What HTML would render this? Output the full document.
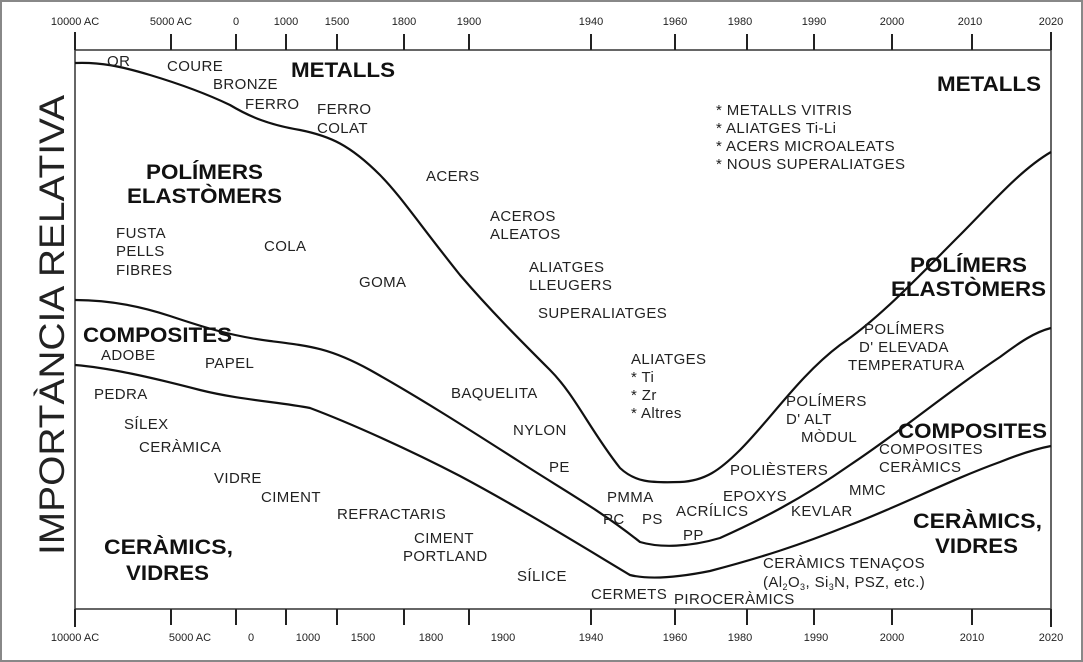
<!DOCTYPE html>
<html><head><meta charset="utf-8"><style>
html,body{margin:0;padding:0;background:#fff}
svg{display:block}
text{font-family:"Liberation Sans",Arial,sans-serif;fill:#222}
.s{font-size:15px;letter-spacing:0.4px}
.b{font-size:21px;font-weight:bold;fill:#111}
.t{font-size:11px}
</style></head><body>
<svg width="1083" height="662" viewBox="0 0 1083 662" xmlns="http://www.w3.org/2000/svg">
<rect x="1" y="1" width="1081" height="660" fill="#fff" stroke="#888" stroke-width="2"/>
<g stroke="#333" stroke-width="1.5" fill="none">
<line x1="75" y1="50" x2="1051" y2="50"/>
<line x1="75" y1="609" x2="1051" y2="609"/>
<line x1="75" y1="50" x2="75" y2="609"/>
<line x1="1051" y1="50" x2="1051" y2="609"/>
</g>
<g stroke="#222" stroke-width="2">
<line x1="75" y1="32" x2="75" y2="50"/><line x1="171" y1="34" x2="171" y2="50"/><line x1="236" y1="34" x2="236" y2="50"/><line x1="286" y1="34" x2="286" y2="50"/><line x1="337" y1="34" x2="337" y2="50"/><line x1="404" y1="34" x2="404" y2="50"/><line x1="469" y1="34" x2="469" y2="50"/><line x1="591" y1="34" x2="591" y2="50"/><line x1="675" y1="34" x2="675" y2="50"/><line x1="747" y1="34" x2="747" y2="50"/><line x1="814" y1="34" x2="814" y2="50"/><line x1="892" y1="34" x2="892" y2="50"/><line x1="972" y1="34" x2="972" y2="50"/><line x1="1051" y1="32" x2="1051" y2="50"/>
<line x1="75" y1="609" x2="75" y2="627"/><line x1="171" y1="609" x2="171" y2="625"/><line x1="236" y1="609" x2="236" y2="625"/><line x1="286" y1="609" x2="286" y2="625"/><line x1="337" y1="609" x2="337" y2="625"/><line x1="404" y1="609" x2="404" y2="625"/><line x1="469" y1="609" x2="469" y2="625"/><line x1="591" y1="609" x2="591" y2="625"/><line x1="675" y1="609" x2="675" y2="625"/><line x1="747" y1="609" x2="747" y2="625"/><line x1="814" y1="609" x2="814" y2="625"/><line x1="892" y1="609" x2="892" y2="625"/><line x1="972" y1="609" x2="972" y2="625"/><line x1="1051" y1="609" x2="1051" y2="627"/>
</g>
<g class="t" text-anchor="middle">
<text class="t" x="75" y="25">10000 AC</text><text class="t" x="171" y="25">5000 AC</text><text class="t" x="236" y="25">0</text><text class="t" x="286" y="25">1000</text><text class="t" x="337" y="25">1500</text><text class="t" x="404" y="25">1800</text><text class="t" x="469" y="25">1900</text><text class="t" x="591" y="25">1940</text><text class="t" x="675" y="25">1960</text><text class="t" x="740" y="25">1980</text><text class="t" x="814" y="25">1990</text><text class="t" x="892" y="25">2000</text><text class="t" x="970" y="25">2010</text><text class="t" x="1051" y="25">2020</text>
<text class="t" x="75" y="641">10000 AC</text><text class="t" x="190" y="641">5000 AC</text><text class="t" x="251" y="641">0</text><text class="t" x="308" y="641">1000</text><text class="t" x="363" y="641">1500</text><text class="t" x="431" y="641">1800</text><text class="t" x="503" y="641">1900</text><text class="t" x="591" y="641">1940</text><text class="t" x="675" y="641">1960</text><text class="t" x="740" y="641">1980</text><text class="t" x="816" y="641">1990</text><text class="t" x="892" y="641">2000</text><text class="t" x="972" y="641">2010</text><text class="t" x="1051" y="641">2020</text>
</g>
<g fill="none" stroke="#111" stroke-width="2.2" stroke-linejoin="round">
<path d="M75,63 C100,62 120,66 150,75 C180,84 205,93 230,105 C250,117 270,125 300,130 C330,136 350,145 380,175 C400,195 420,225 460,275 C490,310 520,340 550,370 C575,395 590,430 620,468 C635,482 650,483 680,482 C705,481 720,470 740,450 C770,420 800,375 840,345 C880,318 920,275 960,235 C990,205 1020,170 1051,152"/>
<path d="M75,300 C110,300 140,306 170,316 C200,326 230,336 270,341 C310,346 330,348 370,370 C420,398 470,430 520,462 C560,488 600,510 640,542 C660,548 690,547 720,538 C760,520 800,500 850,465 C900,432 950,390 1000,357 C1020,342 1035,332 1051,328"/>
<path d="M75,365 C110,368 150,377 200,390 C240,400 280,402 310,408 C350,423 410,450 460,476 C520,508 580,545 630,575 C650,580 680,577 710,571 C760,558 800,545 850,525 C900,506 950,480 1000,462 C1020,454 1035,449 1051,446"/>
</g>
<text x="52" y="325" font-size="35" fill="#111" text-anchor="middle" transform="rotate(-90 52 325)" textLength="460" lengthAdjust="spacingAndGlyphs" dy="12">IMPORTÀNCIA RELATIVA</text>
<g>
<text class="b" x="291" y="77" textLength="104" lengthAdjust="spacingAndGlyphs">METALLS</text>
<text class="b" x="937" y="91" textLength="104" lengthAdjust="spacingAndGlyphs">METALLS</text>
<text class="b" x="146" y="179" textLength="117" lengthAdjust="spacingAndGlyphs">POLÍMERS</text>
<text class="b" x="127" y="203" textLength="155" lengthAdjust="spacingAndGlyphs">ELASTÒMERS</text>
<text class="b" x="910" y="272" textLength="117" lengthAdjust="spacingAndGlyphs">POLÍMERS</text>
<text class="b" x="891" y="296" textLength="155" lengthAdjust="spacingAndGlyphs">ELASTÒMERS</text>
<text class="b" x="83" y="342" textLength="149" lengthAdjust="spacingAndGlyphs">COMPOSITES</text>
<text class="b" x="898" y="438" textLength="149" lengthAdjust="spacingAndGlyphs">COMPOSITES</text>
<text class="b" x="104" y="554" textLength="129" lengthAdjust="spacingAndGlyphs">CERÀMICS,</text>
<text class="b" x="126" y="580" textLength="83" lengthAdjust="spacingAndGlyphs">VIDRES</text>
<text class="b" x="913" y="528" textLength="129" lengthAdjust="spacingAndGlyphs">CERÀMICS,</text>
<text class="b" x="935" y="553" textLength="83" lengthAdjust="spacingAndGlyphs">VIDRES</text>
</g>
<g>
<text class="s" x="107" y="66">OR</text>
<text class="s" x="167" y="71">COURE</text>
<text class="s" x="213" y="89">BRONZE</text>
<text class="s" x="245" y="109">FERRO</text>
<text class="s" x="317" y="114">FERRO</text>
<text class="s" x="317" y="133">COLAT</text>
<text class="s" x="426" y="181">ACERS</text>
<text class="s" x="490" y="221">ACEROS</text>
<text class="s" x="490" y="239">ALEATOS</text>
<text class="s" x="529" y="272">ALIATGES</text>
<text class="s" x="529" y="290">LLEUGERS</text>
<text class="s" x="538" y="318">SUPERALIATGES</text>
<text class="s" x="116" y="238">FUSTA</text>
<text class="s" x="116" y="256">PELLS</text>
<text class="s" x="116" y="275">FIBRES</text>
<text class="s" x="264" y="251">COLA</text>
<text class="s" x="359" y="287">GOMA</text>
<text class="s" x="716" y="115">* METALLS VITRIS</text>
<text class="s" x="716" y="133">* ALIATGES Ti-Li</text>
<text class="s" x="716" y="151">* ACERS MICROALEATS</text>
<text class="s" x="716" y="169">* NOUS SUPERALIATGES</text>
<text class="s" x="101" y="360">ADOBE</text>
<text class="s" x="205" y="368">PAPEL</text>
<text class="s" x="94" y="399">PEDRA</text>
<text class="s" x="124" y="429">SÍLEX</text>
<text class="s" x="139" y="452">CERÀMICA</text>
<text class="s" x="214" y="483">VIDRE</text>
<text class="s" x="261" y="502">CIMENT</text>
<text class="s" x="337" y="519">REFRACTARIS</text>
<text class="s" x="414" y="543">CIMENT</text>
<text class="s" x="403" y="561">PORTLAND</text>
<text class="s" x="451" y="398">BAQUELITA</text>
<text class="s" x="513" y="435">NYLON</text>
<text class="s" x="549" y="472">PE</text>
<text class="s" x="517" y="581">SÍLICE</text>
<text class="s" x="631" y="364">ALIATGES</text>
<text class="s" x="631" y="382">* Ti</text>
<text class="s" x="631" y="400">* Zr</text>
<text class="s" x="631" y="418">* Altres</text>
<text class="s" x="607" y="502">PMMA</text>
<text class="s" x="603" y="524">PC</text>
<text class="s" x="642" y="524">PS</text>
<text class="s" x="676" y="516">ACRÍLICS</text>
<text class="s" x="683" y="540">PP</text>
<text class="s" x="723" y="501">EPOXYS</text>
<text class="s" x="730" y="475">POLIÈSTERS</text>
<text class="s" x="791" y="516">KEVLAR</text>
<text class="s" x="849" y="495">MMC</text>
<text class="s" x="786" y="406">POLÍMERS</text>
<text class="s" x="786" y="424">D' ALT</text>
<text class="s" x="801" y="442">MÒDUL</text>
<text class="s" x="864" y="334">POLÍMERS</text>
<text class="s" x="859" y="352">D' ELEVADA</text>
<text class="s" x="848" y="370">TEMPERATURA</text>
<text class="s" x="879" y="454">COMPOSITES</text>
<text class="s" x="879" y="472">CERÀMICS</text>
<text class="s" x="763" y="568">CERÀMICS TENAÇOS</text>
<text class="s" x="763" y="587">(Al<tspan font-size="9" dy="3">2</tspan><tspan dy="-3">O</tspan><tspan font-size="9" dy="3">3</tspan><tspan dy="-3">, Si</tspan><tspan font-size="9" dy="3">3</tspan><tspan dy="-3">N, PSZ, etc.)</tspan></text>
<text class="s" x="591" y="599">CERMETS</text>
<text class="s" x="674" y="604">PIROCERÀMICS</text>
</g>
</svg>
</body></html>
